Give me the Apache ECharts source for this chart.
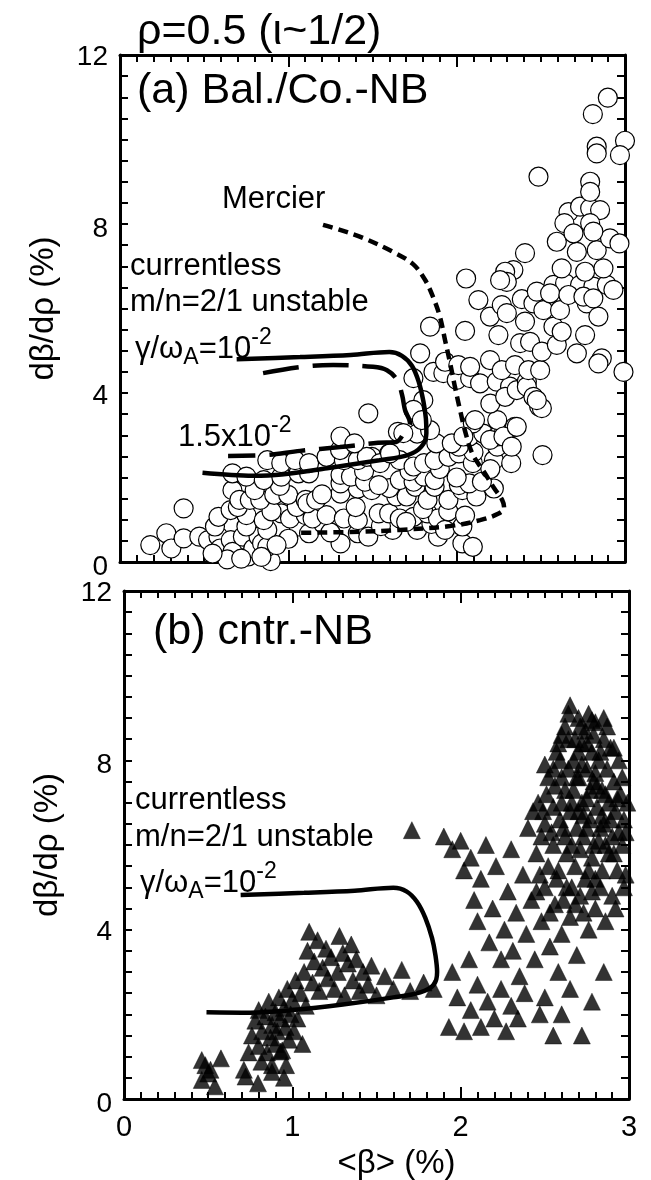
<!DOCTYPE html>
<html><head><meta charset="utf-8">
<script src="https://cdn.jsdelivr.net/npm/echarts@6/dist/echarts.min.js"></script>
<style>html,body{margin:0;padding:0;background:#fff}#c{width:651px;height:1180px}</style>
</head><body><div id="c"></div>
<script>
// ---------- data ----------
const xTickValues = [0, 1, 2, 3];
const yTickValues = [0, 4, 8, 12];

// (a) Bal./Co.-NB : open circles  [<beta> (%), dbeta/drho (%)]
const balCoPoints = [
 [0.18,0.40],[0.275,0.68],[0.305,0.32],[0.378,0.56],[0.471,0.60],[0.523,0.52],[0.585,0.60],[0.595,0.32],[0.658,0.52],[0.668,0.24],[0.637,0.06],[0.73,0.60],[0.761,0.13],[0.792,0.32],[0.823,0.60],[0.844,0.44],[0.895,0.02],[0.875,0.36],[0.378,1.27],[0.55,0.2],[0.72,0.08],[0.84,0.12],
 [0.564,0.84],[0.751,0.84],[0.875,0.76],[1.061,0.84],[1.123,0.68],[1.206,0.91],[1.31,0.44],[1.413,0.68],[1.475,0.60],[1.62,0.76],[1.765,0.76],[1.889,0.60],[2.034,0.44],[2.096,0.36],[1.0,0.55],[0.93,0.4],[1.25,0.7],[1.55,0.85],[1.85,0.9],
 [0.585,1.07],[0.657,1.23],[0.751,1.11],[0.854,0.99],[0.958,1.15],[1.01,1.03],[1.103,1.11],[1.144,1.03],[1.227,1.11],[1.33,1.03],[1.413,0.99],[1.537,1.15],[1.599,1.15],[1.662,1.03],[1.744,1.07],[1.827,1.15],[1.889,1.03],[1.931,0.76],[2.034,0.84],[0.7,1.3],[0.9,1.2],[1.05,1.3],[1.4,1.3],[1.7,0.95],[1.8,1.25],[1.95,1.2],[2.05,1.1],
 [0.668,1.70],[0.709,1.47],[0.771,1.47],[0.833,1.47],[0.916,1.59],[0.999,1.59],[1.103,1.47],[1.113,1.39],[1.165,1.47],[1.31,1.62],[1.413,1.74],[1.31,1.86],[1.496,1.70],[1.641,1.55],[1.703,1.55],[1.755,1.78],[1.827,1.47],[1.869,1.78],[1.951,1.47],[2.034,1.70],[2.117,1.55],[0.8,1.7],[0.95,1.8],[1.2,1.6],[1.6,1.75],
 [0.668,2.10],[0.751,2.02],[0.854,1.94],[0.958,2.02],[1.061,2.10],[1.123,2.10],[1.31,2.06],[1.372,2.02],[1.455,1.90],[1.537,1.82],[1.662,1.94],[1.744,1.90],[1.806,2.02],[1.869,1.94],[2.013,1.82],[2.075,1.86],[2.221,1.74],[1.45,2.15],[1.72,2.15],[1.9,2.2],[2.0,2.0],[2.15,1.9],
 [0.875,2.41],[0.958,2.34],[1.04,2.41],[1.123,2.34],[1.227,2.49],[1.33,2.41],[1.413,2.41],[1.496,2.49],[1.599,2.57],[1.662,2.41],[1.744,2.26],[1.806,2.34],[1.869,2.41],[1.951,2.49],[2.013,2.57],[2.096,2.34],[2.221,2.41],[2.324,2.34],[2.241,2.73],[1.307,2.65],[1.466,2.49],[1.545,2.34],[1.604,2.57],[2.1,2.6],[2.2,2.2],
 [1.31,2.97],[1.393,2.81],[1.651,3.08],[1.765,3.04],[1.879,2.81],[2.013,2.73],[2.075,2.97],[2.158,3.04],[2.241,2.97],[2.283,3.12],[2.345,3.20],[2.241,3.36],[1.475,3.52],[2.096,3.28],[2.2,3.75],[2.49,3.68],[2.51,2.53],
 [1.842,3.12],[1.971,2.81],[2.04,2.97],[2.109,3.36],[2.198,2.89],[2.278,2.97],[2.357,3.2],[2.327,2.73],[1.802,3.83],[1.743,3.6],[1.793,3.36],[1.683,3.05],
 [1.743,4.35],[1.862,4.50],[1.921,4.47],[2.0,4.31],[2.08,4.35],[2.139,4.23],[2.238,4.27],[2.317,4.15],[2.288,3.91],[2.357,4.07],[2.417,4.27],[2.417,4.15],[2.456,3.91],[2.506,3.64],[2.476,3.83],
 [1.783,4.94],[1.931,4.74],[2.01,4.66],[2.08,4.62],[2.198,4.78],[2.268,4.54],[2.347,4.66],[2.426,4.54],[2.496,4.54],[2.991,4.50],
 [2.377,5.18],[2.436,5.21],[2.506,4.98],[2.595,5.14],[2.714,4.94],[2.862,4.82],[2.842,4.70],
 [1.842,5.57],[2.05,5.47],[2.248,5.37],[2.406,5.69],[2.575,5.57],[2.624,5.45],[2.763,5.37],
 [2.387,6.22],[2.456,6.12],[2.515,5.96],[2.614,5.96],[2.773,6.12],[2.842,5.81],[2.129,6.2],[2.198,5.81],[2.268,6.08],[2.298,5.89],
 [2.575,6.56],[2.644,6.6],[2.733,6.56],[2.812,6.52],[2.892,6.56],[2.931,6.44],[2.476,6.4],[2.555,6.36],[2.664,6.32],[2.753,6.28],[2.812,6.24],
 [2.337,6.91],[2.288,6.87],[2.298,6.63],[2.258,6.67],[2.624,6.95],[2.763,6.87],[2.872,6.95],[2.056,6.71],
 [2.595,7.58],[2.714,7.34],[2.832,7.38],[2.911,7.66],[2.967,7.54],[2.406,7.31],
 [2.664,8.28],[2.733,8.41],[2.793,8.37],[2.852,8.33],[2.64,8.02],[2.694,7.78],[2.793,8.02],[2.812,7.82],
 [2.486,9.12],[2.793,9.0],[2.793,8.76],[2.832,9.83],[2.832,9.67],[3.0,9.97],[2.97,9.63],[2.898,10.99],[2.809,10.60]
];

// (b) cntr.-NB : filled triangles
const cntrPoints = [
 [0.462,0.92],[0.483,0.80],[0.514,0.69],[0.576,0.96],[0.462,0.45],[0.712,0.69],[0.722,0.53],[0.796,0.37],[0.816,0.88],[0.879,0.80],[0.879,0.64],[0.963,0.80],[0.931,1.12],[0.5,0.6],[0.54,0.3],[0.95,0.5],
 [0.74,1.1],[0.76,1.5],[0.78,1.85],[0.8,1.25],[0.8,2.1],[0.82,1.6],[0.84,1.95],[0.85,1.1],[0.86,2.3],[0.87,1.45],[0.88,1.75],[0.9,2.05],[0.9,1.3],[0.91,1.6],[0.92,2.4],[0.93,1.9],[0.94,1.15],[0.95,2.15],[0.96,1.7],[0.97,2.6],[0.98,1.4],[0.99,2.0],[1.0,2.35],[1.01,1.6],[1.02,2.8],[1.03,1.9],[1.05,2.5],[1.06,1.3],[1.08,2.2],
 [1.07,3.0],[1.09,3.5],[1.1,3.95],[1.12,2.75],[1.13,3.25],[1.15,3.75],[1.16,2.55],[1.18,3.1],[1.2,3.55],[1.21,2.85],[1.23,3.35],[1.25,2.6],[1.27,3.0],[1.28,3.85],[1.3,3.45],[1.31,2.45],[1.33,3.2],[1.35,3.65],[1.36,2.8],[1.38,3.3],[1.4,2.55],[1.42,3.0],[1.45,2.7],[1.47,3.15],[1.5,2.45],[1.55,2.9],[1.6,2.6],[1.65,3.05],[1.7,2.55],[1.78,2.75],[1.84,2.6],
 [1.71,6.35],
 [1.93,1.7],[1.98,2.4],[2.02,1.6],[2.06,2.1],[2.1,2.7],[2.12,1.7],[2.16,2.3],[2.2,1.9],[2.24,2.6],[2.27,1.6],[2.3,2.2],[2.34,1.9],[2.38,2.5],[1.95,3.0],[2.05,3.3],
 [1.9,6.2],[1.95,5.9],[2.0,6.1],[2.02,5.4],[2.06,5.7],[2.08,4.7],[2.1,4.2],[2.12,5.2],[2.15,6.0],[2.17,3.7],[2.19,4.5],[2.21,5.5],[2.24,3.3],[2.26,4.0],[2.28,4.9],[2.3,5.9],[2.31,3.5],[2.33,4.4],[2.35,2.9],[2.37,5.3],[2.39,3.9],[2.4,6.4],[2.42,4.7],[2.44,3.3],
 [2.45,5.8],[2.46,7.0],[2.48,4.2],[2.5,6.5],[2.5,5.0],[2.52,7.6],[2.53,3.6],[2.55,6.0],[2.56,4.6],[2.57,8.2],[2.58,5.4],[2.6,7.0],[2.6,3.9],[2.61,6.4],[2.62,8.8],[2.63,5.0],[2.64,7.8],[2.65,9.3],[2.65,4.3],[2.66,6.0],[2.67,7.3],[2.68,8.5],[2.68,5.5],[2.69,3.4],[2.7,6.8],[2.7,9.0],[2.71,4.8],[2.72,7.9],[2.73,6.2],[2.74,8.7],[2.74,5.2],[2.75,7.1],[2.76,4.0],[2.76,9.1],[2.77,6.6],[2.78,8.2],[2.78,5.7],[2.79,7.5],[2.8,4.5],[2.8,8.9],[2.81,6.9],[2.82,6.1],[2.82,8.0],[2.83,5.0],[2.84,7.3],[2.85,8.5],[2.85,6.5],[2.86,4.2],[2.87,7.8],[2.88,5.8],[2.88,7.0],[2.89,8.3],[2.9,6.2],[2.9,4.8],[2.91,7.5],[2.92,6.8],[2.93,5.4],[2.94,8.0],[2.95,7.2],[2.96,6.0],[2.97,6.6],[2.98,5.3],[2.99,7.0],[2.6,7.6],[2.55,6.9],[2.7,7.6],[2.75,6.4],[2.65,6.8],[2.8,7.7],[2.72,8.4],[2.84,6.7],[2.58,8.4],[2.62,6.2],[2.52,5.5],[2.48,6.2],[2.45,4.9],[2.43,6.8],[2.68,4.6],[2.78,4.9],[2.92,4.5],
 [2.47,5.3],[2.49,6.8],[2.51,7.2],[2.53,4.4],[2.54,6.3],[2.56,7.4],[2.57,5.2],[2.59,6.6],[2.59,8.0],[2.61,4.7],[2.62,7.3],[2.63,5.8],[2.64,8.5],[2.66,7.0],[2.66,5.0],[2.67,8.0],[2.69,6.4],[2.69,7.6],[2.71,5.9],[2.71,8.8],[2.72,7.0],[2.73,4.4],[2.73,6.7],[2.75,7.8],[2.75,8.4],[2.76,5.4],[2.77,7.3],[2.79,6.0],[2.79,8.6],[2.8,5.2],[2.81,7.4],[2.83,6.4],[2.83,8.2],[2.84,5.4],[2.86,7.2],[2.86,6.0],[2.87,8.8],[2.89,6.6],[2.91,5.8],[2.91,8.3],[2.93,7.1],[2.94,6.3],[2.96,7.6],[2.97,5.0],[2.98,6.3],[2.64,9.1],[2.7,8.2],[2.78,8.95],[2.85,9.0],[2.6,8.6],[2.55,7.8],[2.5,7.9],
 [2.5,2.4],[2.55,1.5],[2.6,2.0],[2.65,2.6],[2.72,1.5],[2.78,2.3],[2.85,3.0],[2.47,2.0],[2.58,3.0]
];

// m/n=2/1 unstable boundaries, Mercier boundary
const balGrowth1e2 = [[0.693,4.80],[1.07,4.85],[1.37,4.90],[1.60,4.97],[1.675,4.88],[1.735,4.64],[1.775,4.26],[1.803,3.79],[1.817,3.40],[1.82,3.05],[1.79,2.73],[1.71,2.53],[1.54,2.41],[1.23,2.22],[0.96,2.07],[0.79,2.04],[0.49,2.11]];
const balGrowth15e3 = [[0.850,4.47],[1.087,4.62],[1.266,4.66],[1.503,4.62],[1.586,4.54],[1.646,4.31],[1.676,3.95],[1.693,3.60],[1.723,3.29],[1.687,3.05],[1.640,2.84],[1.533,2.82],[1.307,2.72],[1.070,2.63],[0.862,2.53],[0.642,2.51]];
const balMercier = [[1.206,7.98],[1.307,7.86],[1.444,7.67],[1.622,7.34],[1.741,7.05],[1.812,6.68],[1.860,6.27],[1.901,5.80],[1.931,5.25],[1.961,4.71],[1.990,4.14],[2.020,3.60],[2.056,3.01],[2.097,2.53],[2.163,2.13],[2.222,1.75],[2.270,1.47],[2.282,1.28],[2.246,1.14],[2.139,0.99],[1.961,0.85],[1.664,0.76],[1.367,0.71],[1.052,0.69]];
const cntrGrowth1e2 = [[0.693,4.82],[1.07,4.87],[1.37,4.92],[1.60,4.99],[1.68,4.90],[1.74,4.66],[1.79,4.28],[1.83,3.80],[1.85,3.40],[1.86,3.0],[1.84,2.70],[1.76,2.52],[1.60,2.40],[1.30,2.23],[1.0,2.10],[0.75,2.04],[0.49,2.05]];

// ---------- chart ----------
const FONT = '"Liberation Sans", Arial, Helvetica, sans-serif';
const chart = echarts.init(document.getElementById('c'), null, {renderer: 'canvas'});

function xAxisCfg(grid, pos, labels) {
  return {
    type: 'value', gridIndex: grid, position: pos, min: 0, max: 3, interval: 1,
    axisLine: {show: true, onZero: false, lineStyle: {color: '#000', width: 3}},
    axisTick: {show: true, inside: true, length: 12, lineStyle: {color: '#000', width: 2}},
    minorTick: {show: true, splitNumber: 10, length: 7, lineStyle: {color: '#000', width: 2}},
    splitLine: {show: false}, minorSplitLine: {show: false},
    axisLabel: {show: labels, fontSize: 29, fontFamily: FONT, color: '#000', margin: 14,
                formatter: v => (xTickValues.indexOf(v) >= 0 ? String(v) : '')},
    name: labels ? '<β> (%)' : '', nameLocation: 'middle', nameGap: 48,
    nameTextStyle: {fontSize: 33, fontFamily: FONT, color: '#000', padding: [0, 0, 0, 40]}
  };
}
function yLabelShift(shifts) {
  const rich = {};
  yTickValues.forEach(v => {
    const s = shifts[v] || 0;
    rich['t' + v] = {fontSize: 28, fontFamily: FONT, color: '#000',
                     padding: s >= 0 ? [2 * s, 0, 0, 0] : [0, 0, -2 * s, 0]};
  });
  return rich;
}
function yAxisCfg(grid, pos, labels, shifts) {
  return {
    type: 'value', gridIndex: grid, position: pos, min: 0, max: 12, interval: 4,
    axisLine: {show: true, onZero: false, lineStyle: {color: '#000', width: 3}},
    axisTick: {show: true, inside: true, length: 8, lineStyle: {color: '#000', width: 2}},
    minorTick: {show: true, splitNumber: 8, length: 8, lineStyle: {color: '#000', width: 2}},
    splitLine: {show: false}, minorSplitLine: {show: false},
    axisLabel: {show: labels, margin: 12, fontSize: 28, fontFamily: FONT, color: '#000',
                showMinLabel: true, showMaxLabel: true,
                formatter: v => '{t' + v + '|' + v + '}', rich: yLabelShift(shifts || {})},
    name: labels ? 'dβ/dρ (%)' : '', nameLocation: 'middle', nameGap: 60,
    nameTextStyle: {fontSize: 33, fontFamily: FONT, color: '#000'}
  };
}
function lineSeries(data, xi, dash) {
  return {
    type: 'line', xAxisIndex: xi, yAxisIndex: xi, data: data, symbol: 'none', smooth: 0.35,
    clip: false, z: 5, silent: true,
    lineStyle: {color: '#000', width: 4.5, type: dash || 'solid', cap: 'butt'}
  };
}
function txt(x, y, text, size, rich) {
  const st = {x: x, y: y, text: text, fontSize: size, fontFamily: FONT, fill: '#000',
              textAlign: 'left', textVerticalAlign: 'middle'};
  if (rich) st.rich = rich;
  return {type: 'text', z: 100, style: st};
}
const gammaRich = {
  m: {fontSize: 31, fontFamily: FONT, color: '#000'},
  s: {fontSize: 23, fontFamily: FONT, color: '#000', padding: [18, 0, 0, 0]},
  p: {fontSize: 23, fontFamily: FONT, color: '#000', padding: [0, 0, 22, 0]}
};
const labelShift = {0: 5, 4: 3, 8: 5, 12: 2};

chart.setOption({
  animation: false,
  backgroundColor: '#fff',
  grid: [
    {left: 120, top: 55, width: 505, height: 507, outerBoundsMode: 'none', containLabel: false},
    {left: 124, top: 591, width: 505, height: 508, outerBoundsMode: 'none', containLabel: false}
  ],
  xAxis: [xAxisCfg(0, 'bottom', false), xAxisCfg(0, 'top', false),
          xAxisCfg(1, 'bottom', true), xAxisCfg(1, 'top', false)],
  yAxis: [yAxisCfg(0, 'left', true, labelShift), yAxisCfg(0, 'right', false),
          yAxisCfg(1, 'left', true, labelShift), yAxisCfg(1, 'right', false)],
  series: [
    {type: 'scatter', xAxisIndex: 0, yAxisIndex: 0, data: balCoPoints, symbol: 'circle', symbolSize: 19,
     clip: false, z: 2, itemStyle: {color: '#fff', borderColor: '#000', borderWidth: 1.2, opacity: 1}},
    lineSeries(balGrowth1e2, 0, null),
    lineSeries(balGrowth15e3, 0, [36, 14]),
    lineSeries(balMercier, 0, [10, 6]),
    {type: 'scatter', xAxisIndex: 2, yAxisIndex: 2, data: cntrPoints, symbol: 'triangle', symbolSize: 17,
     clip: false, z: 2, itemStyle: {color: '#000', borderColor: '#000', borderWidth: 0.5}},
    lineSeries(cntrGrowth1e2, 2, null)
  ],
  graphic: [
    txt(137, 32, 'ρ=0.5 (ι~1/2)', 43),
    txt(137, 91, '(a) Bal./Co.-NB', 43),
    txt(222, 199, 'Mercier', 31),
    txt(130, 266, 'currentless', 31),
    txt(130, 302, 'm/n=2/1 unstable', 31),
    txt(135, 349, '{m|γ/ω}{s|A}{m|=10}{p|-2}', 31, gammaRich),
    txt(178, 437, '{m|1.5x10}{p|-2}', 31, gammaRich),
    txt(153, 632, '(b) cntr.-NB', 43),
    txt(135, 800, 'currentless', 31),
    txt(135, 837, 'm/n=2/1 unstable', 31),
    txt(140, 883, '{m|γ/ω}{s|A}{m|=10}{p|-2}', 31, gammaRich)
  ]
});
</script>
</body></html>
